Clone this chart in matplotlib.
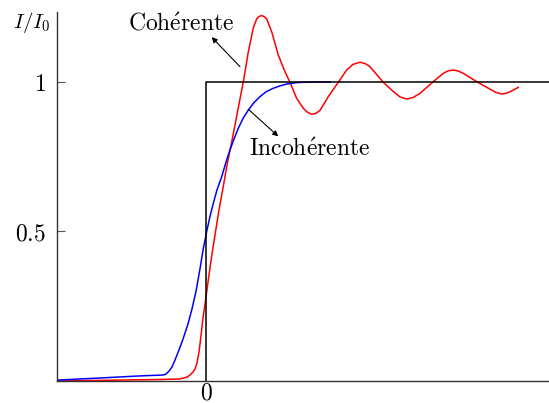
import numpy as np
import matplotlib
matplotlib.use("Agg")
import matplotlib.pyplot as plt

plt.rcParams['mathtext.fontset'] = 'cm'
plt.rcParams['font.family'] = ['cmr10', 'DejaVu Serif']
plt.rcParams['axes.unicode_minus'] = False

# coherent illumination (red)
coh_x = [-1.49, -0.86, -0.46, -0.26, -0.19, -0.16, -0.13, -0.11, -0.09, -0.07, -0.05,
         -0.03, 0.00, 0.03, 0.06, 0.09, 0.13, 0.17, 0.21, 0.257, 0.29, 0.33, 0.373,
         0.423, 0.473, 0.507, 0.53, 0.557, 0.58, 0.607, 0.657, 0.723, 0.79, 0.84,
         0.907, 0.973, 1.01, 1.057, 1.10, 1.14, 1.223, 1.323, 1.407, 1.47, 1.54, 1.59,
         1.64, 1.773, 1.873, 1.94, 2.007, 2.07, 2.14, 2.273, 2.373, 2.42, 2.473, 2.52,
         2.573, 2.707, 2.84, 2.90, 2.957, 3.00, 3.057, 3.123]
coh_y = [0.000, 0.003, 0.005, 0.007, 0.013, 0.020, 0.030, 0.040, 0.060, 0.097, 0.151,
         0.211, 0.281, 0.355, 0.425, 0.488, 0.572, 0.645, 0.722, 0.799, 0.856, 0.926, 1.000,
         1.100, 1.181, 1.211, 1.219, 1.222, 1.219, 1.211, 1.168, 1.090, 1.034, 0.999,
         0.945, 0.912, 0.900, 0.892, 0.895, 0.905, 0.951, 0.999, 1.040, 1.059, 1.066, 1.062,
         1.051, 0.999, 0.968, 0.950, 0.943, 0.948, 0.962, 1.001, 1.029, 1.037, 1.040, 1.037,
         1.029, 1.001, 0.976, 0.965, 0.960, 0.962, 0.970, 0.982]

# incoherent illumination (blue)
inc_x = [-1.49, -1.06, -0.66, -0.43, -0.40, -0.37, -0.34, -0.31, -0.27, -0.23, -0.18,
         -0.14, -0.10, -0.06, -0.03, 0.007, 0.04, 0.073, 0.11, 0.157, 0.20, 0.24, 0.28,
         0.323, 0.37, 0.423, 0.48, 0.54, 0.60, 0.673, 0.74, 0.807, 0.907, 1.04, 1.24]
inc_y = [0.003, 0.010, 0.017, 0.020, 0.023, 0.033, 0.047, 0.070, 0.104, 0.140, 0.191,
         0.241, 0.300, 0.375, 0.437, 0.500, 0.550, 0.594, 0.639, 0.683, 0.732, 0.773, 0.809,
         0.845, 0.878, 0.906, 0.931, 0.951, 0.967, 0.979, 0.987, 0.993, 0.998, 0.9997, 1.000]

# geometric shadow (step)
step_x = [0.0, 0.0, 3.6]
step_y = [0.0, 1.0, 1.0]

fig = plt.figure(figsize=(5.49, 4.03), dpi=100)
ax = fig.add_axes([0.1038, 0.0546, 0.8962, 0.9156])

ax.plot(coh_x, coh_y, color='red', lw=1.1)
ax.plot(inc_x, inc_y, color='blue', lw=1.1)
ax.plot(step_x, step_y, color='black', lw=1.1)

ax.set_xlim(-1.49, 3.43)
ax.set_ylim(0, 1.234)

for s in ['top', 'right']:
    ax.spines[s].set_visible(False)
for s in ['left', 'bottom']:
    ax.spines[s].set_linewidth(1.0)
    ax.spines[s].set_color('#333333')

ax.set_yticks([0.5, 1.0])
ax.set_yticklabels(['$0.5$', '$1$'], fontsize=17)
ax.set_xticks([0])
ax.set_xticklabels(['$0$'], fontsize=17)
ax.tick_params(axis='y', direction='in', length=6, width=0.8, color='#555555', pad=8)
ax.tick_params(axis='x', direction='in', length=0, pad=1)

fig.text(0.058, 0.943, '$I/I_0$', fontsize=15, ha='center', va='center')

arrow = dict(arrowstyle='-|>', color='black', lw=0.8, shrinkA=0, shrinkB=0, mutation_scale=8)
ax.text(-0.25, 1.192, r'$\mathrm{Coh\acute{e}rente}$', fontsize=17, ha='center', va='center')
ax.annotate('', xy=(0.057, 1.150), xytext=(0.34, 1.051), arrowprops=arrow)
ax.annotate('', xy=(0.723, 0.818), xytext=(0.423, 0.909), arrowprops=arrow)
ax.text(1.04, 0.773, r'$\mathrm{Incoh\acute{e}rente}$', fontsize=17, ha='center', va='center')

fig.savefig('out.png', dpi=100)
